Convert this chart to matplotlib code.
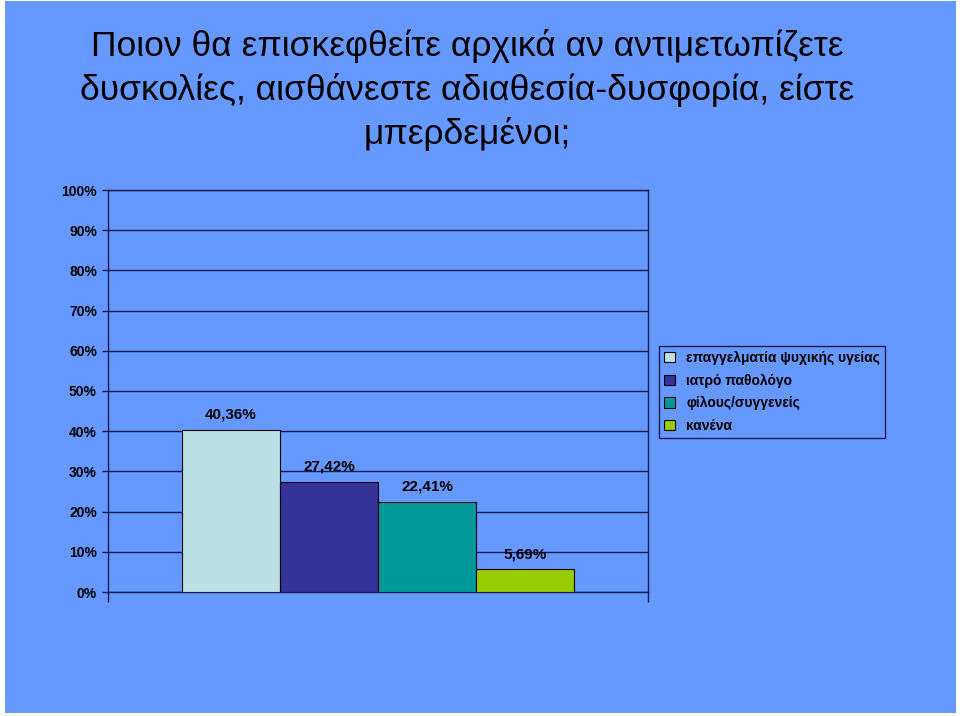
import matplotlib
matplotlib.use('Agg')
import matplotlib.pyplot as plt
from matplotlib.patches import Rectangle
import numpy as np

title = 'Ποιον θα επισκεφθείτε αρχικά αν αντιμετωπίζετε\nδυσκολίες, αισθάνεστε αδιαθεσία-δυσφορία, είστε\nμπερδεμένοι;'
series = ['επαγγελματία ψυχικής υγείας', 'ιατρό παθολόγο', 'φίλους/συγγενείς', 'κανένα']
values = [40.36, 27.42, 22.41, 5.69]
labels = ['40,36%', '27,42%', '22,41%', '5,69%']
yticks = [0, 10, 20, 30, 40, 50, 60, 70, 80, 90, 100]

bg_color = '#6699FF'
line_color = '#1a1a50'
bar_colors = ['#BBE0E3', '#333399', '#009999', '#99CC00']

plt.rcParams['font.family'] = ['Liberation Sans', 'DejaVu Sans']

W, H = 960, 716
fig = plt.figure(figsize=(W / 100, H / 100), dpi=100, facecolor='white')
fig.patches.append(Rectangle((5 / W, 3 / H), 951 / W, 712 / H, transform=fig.transFigure,
                             facecolor=bg_color, edgecolor='none', zorder=-1))

fig.text(467 / W, 1 - 90 / H, title, ha='center', va='center', fontsize=25.5,
         linespacing=1.38, color='black')

ax = fig.add_axes([108 / W, 1 - 592 / H, 540 / W, 402 / H])
ax.set_facecolor(bg_color)

w = 98 / 540
offsets = (np.arange(len(values)) - 1.5) * w
for off, v, c, s, lab in zip(offsets, values, bar_colors, series, labels):
    ax.bar(off, v, width=w, color=c, edgecolor='black', linewidth=0.8, label=s, zorder=3)
    ax.text(off, v + 2.0, lab, ha='center', va='bottom', fontsize=11, fontweight='bold', zorder=4)

ax.set_xlim(-0.5, 0.5)
ax.set_ylim(0, 100)
ax.set_yticks(yticks)
ax.set_yticklabels([f'{t}%' for t in yticks], fontsize=10, fontweight='bold')
ax.yaxis.grid(True, color=line_color, linewidth=1.0, zorder=0)
ax.set_axisbelow(True)
ax.tick_params(axis='y', length=4, width=1, color=line_color, pad=4)
ax.set_xticks([-0.5, 0.5])
ax.set_xticklabels(['', ''])
ax.tick_params(axis='x', length=7, width=1, color=line_color)
for sp in ax.spines.values():
    sp.set_color(line_color)
    sp.set_linewidth(1.0)

leg = ax.legend(loc='upper left', bbox_to_anchor=(659 / W, 1 - 346 / H), bbox_transform=fig.transFigure,
                frameon=True, fancybox=False, shadow=False,
                prop={'weight': 'bold', 'size': 10}, handlelength=0.8, handleheight=0.8,
                handletextpad=0.8, labelspacing=0.62, borderpad=0.35, borderaxespad=0)
leg.get_frame().set_facecolor(bg_color)
leg.get_frame().set_edgecolor(line_color)
leg.get_frame().set_linewidth(1.0)
leg.get_frame().set_alpha(1)

fig.savefig('out.png', dpi=100, facecolor=fig.get_facecolor())
